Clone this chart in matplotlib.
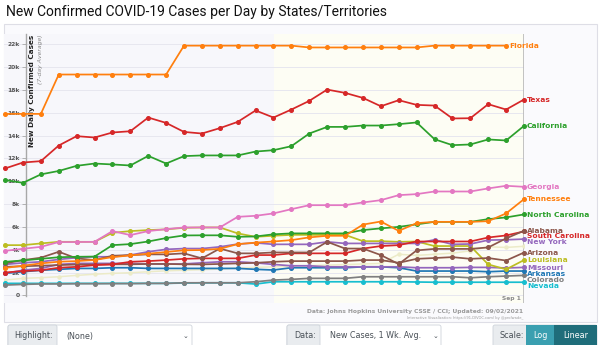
import matplotlib
matplotlib.use("Agg")
import matplotlib.pyplot as plt
from matplotlib.patches import Rectangle, FancyBboxPatch

# daily new cases, 7-day average, in thousands (Aug 3 .. Sep 1)
days = list(range(30))
florida = [15.9, 15.9, 15.9, 19.35, 19.35, 19.35, 19.35, 19.35, 19.35, 19.35,
           21.88, 21.88, 21.88, 21.88, 21.88, 21.88, 21.88, 21.72, 21.72, 21.72,
           21.72, 21.72, 21.72, 21.72, 21.88, 21.88, 21.88, 21.88, 21.88]
texas = [11.12, 11.64, 11.76, 13.13, 13.95, 13.83, 14.27, 14.38, 15.58, 15.11,
         14.32, 14.18, 14.65, 15.2, 16.2, 15.58, 16.28, 17.04, 18.03, 17.74,
         17.3, 16.57, 17.1, 16.69, 16.63, 15.5, 15.52, 16.75, 16.28, 17.16]
california = [10.1, 9.86, 10.6, 10.9, 11.35, 11.55, 11.47, 11.38, 12.22, 11.55,
              12.2, 12.26, 12.26, 12.26, 12.6, 12.72, 13.07, 14.18, 14.76, 14.76,
              14.88, 14.88, 15.0, 15.15, 13.68, 13.16, 13.22, 13.66, 13.57, 14.85]
georgia = [3.9, 4.08, 4.25, 4.67, 4.67, 4.69, 5.63, 5.28, 5.63, 5.8,
           5.95, 5.95, 5.95, 6.88, 6.97, 7.18, 7.55, 7.9, 7.9, 7.9,
           8.14, 8.34, 8.78, 8.87, 9.1, 9.1, 9.1, 9.37, 9.6, 9.51]
tennessee = [2.4, 2.6, 2.8, 2.95, 3.0, 3.1, 3.35, 3.5, 3.65, 3.8,
             3.95, 3.97, 4.08, 4.49, 4.62, 4.72, 4.84, 5.08, 5.22, 5.22,
             6.2, 6.47, 5.65, 6.33, 6.44, 6.44, 6.44, 6.5, 7.18, 8.43]
north_carolina = [2.94, 3.06, 3.2, 3.34, 3.38, 3.4, 4.4, 4.49, 4.72, 5.02,
                  5.25, 5.26, 5.26, 5.13, 5.16, 5.35, 5.43, 5.43, 5.43, 5.43,
                  5.72, 5.87, 6.0, 6.22, 6.44, 6.44, 6.44, 6.68, 6.83, 7.09]
alabama = [2.8, 3.09, 3.3, 3.82, 3.24, 3.09, 3.47, 3.53, 3.59, 3.59,
           3.68, 3.24, 4.1, 3.68, 3.68, 3.76, 3.76, 3.76, 4.69, 4.1,
           4.1, 3.53, 2.74, 3.94, 4.07, 4.07, 4.07, 4.2, 4.99, 5.66]
south_carolina = [2.0, 2.13, 2.2, 2.42, 2.5, 2.65, 2.71, 2.94, 3.0, 3.09,
                  3.2, 3.24, 3.24, 3.24, 3.53, 3.53, 3.68, 3.68, 3.68, 3.68,
                  4.1, 4.32, 4.4, 4.72, 4.72, 4.72, 4.72, 5.07, 5.25, 5.6]
new_york = [2.71, 2.85, 2.94, 3.15, 3.3, 3.38, 3.38, 3.53, 3.82, 4.03,
            4.1, 4.1, 4.25, 4.49, 4.6, 4.47, 4.47, 4.47, 4.69, 4.55,
            4.55, 4.55, 4.55, 4.55, 4.87, 4.47, 4.5, 4.84, 4.87, 4.93]
arizona = [2.5, 2.55, 2.6, 2.65, 2.7, 2.7, 2.72, 2.72, 2.75, 2.75,
           2.72, 2.71, 2.75, 2.8, 2.85, 2.94, 3.0, 3.0, 3.0, 3.0,
           3.09, 3.09, 2.85, 3.2, 3.27, 3.35, 3.2, 3.27, 3.05, 3.75]
louisiana = [4.4, 4.4, 4.55, 4.69, 4.69, 4.69, 5.48, 5.63, 5.72, 5.78,
             5.92, 5.95, 5.95, 5.43, 5.13, 5.22, 5.3, 5.3, 5.3, 5.3,
             4.75, 4.75, 4.69, 4.72, 4.32, 4.32, 4.32, 2.71, 2.28, 3.09]
missouri = [1.93, 2.2, 2.36, 2.71, 2.8, 2.8, 2.8, 2.8, 2.75, 2.75,
            2.75, 2.85, 2.94, 2.94, 2.85, 2.71, 2.59, 2.59, 2.5, 2.5,
            2.5, 2.5, 2.5, 2.42, 2.42, 2.42, 2.45, 2.45, 2.4, 2.45]
arkansas = [1.93, 2.07, 2.2, 2.28, 2.36, 2.36, 2.42, 2.42, 2.36, 2.36,
            2.36, 2.36, 2.36, 2.36, 2.28, 2.22, 2.42, 2.42, 2.42, 2.42,
            2.5, 2.5, 2.42, 2.13, 2.13, 2.13, 2.13, 2.07, 2.13, 2.13]
colorado = [0.9, 0.96, 1.0, 1.0, 1.02, 1.02, 1.03, 1.03, 1.05, 1.05,
            1.1, 1.1, 1.1, 1.1, 1.19, 1.34, 1.4, 1.49, 1.49, 1.49,
            1.63, 1.63, 1.63, 1.63, 1.63, 1.63, 1.54, 1.63, 1.69, 1.75]
nevada = [1.05, 1.05, 1.05, 1.05, 1.05, 1.05, 1.05, 1.05, 1.05, 1.05,
          1.08, 1.1, 1.1, 1.1, 0.99, 1.19, 1.19, 1.19, 1.19, 1.19,
          1.19, 1.19, 1.19, 1.17, 1.15, 1.15, 1.15, 1.15, 1.15, 1.15]
# unlabelled faint line
other = [1.34, 1.49, 1.55, 1.63, 1.75, 1.85, 1.93, 1.98, 2.07, 2.15,
         2.2, 2.25, 2.3, 2.4, 2.45, 2.5, 2.55, 2.6, 2.65, 2.7,
         2.75, 2.8, 3.6, 3.5, 3.6, 3.7, 3.9, 4.25, 4.2, 4.3]

names = ["Florida", "Texas", "California", "Georgia", "Tennessee",
         "North Carolina", "Alabama", "South Carolina", "New York", "Arizona",
         "Louisiana", "Missouri", "Arkansas", "Colorado", "Nevada"]
series = [florida, texas, california, georgia, tennessee, north_carolina,
          alabama, south_carolina, new_york, arizona, louisiana, missouri,
          arkansas, colorado, nevada]
colors = ["#ff7f0e", "#d62728", "#2ca02c", "#e377c2", "#ff7f0e", "#2ca02c",
          "#8c564b", "#d62728", "#9467bd", "#8c564b", "#bcbd22", "#9467bd",
          "#1f77b4", "#7f7f7f", "#17becf"]
# label heights (thousands) after de-overlapping
label_y = [21.88, 17.16, 14.85, 9.5, 8.43, 7.05, 5.66, 5.17, 4.67,
           3.73, 3.09, 2.4, 1.88, 1.34, 0.81]
yticks = list(range(0, 23, 2))
ytick_labels = ["0"] + ["{}k".format(t) for t in yticks[1:]]

W, H = 600, 345
fig = plt.figure(figsize=(W / 100, H / 100), dpi=100)

# background layer in pixel coordinates
bg = fig.add_axes([0, 0, 1, 1], zorder=0)
bg.set_xlim(0, W)
bg.set_ylim(H, 0)
bg.axis("off")
bg.add_patch(Rectangle((4, 24), 593, 298, facecolor="#fafafd",
                       edgecolor="#dedee6", lw=0.8))
bg.text(6, 12, "New Confirmed COVID-19 Cases per Day by States/Territories",
        fontsize=10, family="Roboto", color="#111111", va="center", ha="left")
bg.text(523, 311, "Data: Johns Hopkins University CSSE / CCI; Updated: 09/02/2021",
        fontsize=4.3, color="#9a9a9a", ha="right", va="center", fontweight="bold")
bg.text(523, 317.5, "Interactive Visualization: https://91-DIVOC.com/ by @profwade_",
        fontsize=2.6, color="#9a9a9a", ha="right", va="center")


def box(x0, x1, fc, ec="#ced4da", rad=2):
    bg.add_patch(FancyBboxPatch((x0, 325), x1 - x0, 24,
                                boxstyle="round,pad=0,rounding_size={}".format(rad),
                                facecolor=fc, edgecolor=ec, lw=0.6))


box(8, 192, "white")
box(8, 57, "#e9ecef")
bg.text(14, 336, "Highlight:", fontsize=5.8, color="#495057", va="center")
bg.text(66, 336, "(None)", fontsize=5.8, color="#495057", va="center")
bg.text(186, 336, "\u2304", fontsize=5, color="#495057", va="center", ha="center")
box(287, 441, "white")
box(287, 320, "#e9ecef")
bg.text(294, 336, "Data:", fontsize=5.8, color="#495057", va="center")
bg.text(330, 336, "New Cases, 1 Wk. Avg.", fontsize=5.8, color="#495057", va="center")
bg.text(436, 336, "\u2304", fontsize=5, color="#495057", va="center", ha="center")
box(493, 597, "#e9ecef")
bg.add_patch(Rectangle((526, 325), 28, 24, facecolor="#3a9fb0", edgecolor="none"))
bg.add_patch(Rectangle((554, 325), 43, 24, facecolor="#1f6d7a", edgecolor="none"))
bg.text(499, 336, "Scale:", fontsize=5.8, color="#495057", va="center")
bg.text(540, 336, "Log", fontsize=5.8, color="white", va="center", ha="center")
bg.text(575.5, 336, "Linear", fontsize=5.8, color="white", va="center", ha="center")

# plot area
left, right, top, bottom = 4, 524, 34, 303
ax = fig.add_axes([left / W, 1 - bottom / H, (right - left) / W, (bottom - top) / H],
                  zorder=1)
ax.set_facecolor("#f7f7fb")
ax.set_xlim(-0.06, 29)
ax.set_ylim(-0.67, 22.9)
ax.axvspan(15.03, 29, color="#fdfdf4", zorder=0, lw=0)
ax.grid(axis="y", color="#e7e7ef", lw=0.7, zorder=0.5)
ax.set_axisbelow(True)
for side in ["top", "right", "bottom"]:
    ax.spines[side].set_visible(False)
ax.spines["left"].set_position(("data", 1.17))
ax.spines["left"].set_bounds(-0.1, 22.9)
ax.spines["left"].set_color("#a8a8a8")
ax.spines["left"].set_linewidth(1)
ax.set_xticks([])
ax.set_yticks(yticks)
ax.set_yticklabels(ytick_labels)
ax.tick_params(axis="y", length=3, width=0.6, color="#a8a8a8", pad=1.5,
               labelsize=4.3, labelcolor="#555555")
for lbl in ax.get_yticklabels():
    lbl.set_fontweight("bold")

ax.text(1.5, 22.85, "New Daily Confirmed Cases", rotation=90, ha="center", va="top",
        fontsize=5.2, fontweight="bold", color="#222222")
ax.text(1.97, 22.85, "(7-day Average)", rotation=90, ha="center", va="top",
        fontsize=4.4, style="italic", color="#8a8a8a")

ax.axvline(29, color="#bcbcbc", lw=2, zorder=2)
ax.text(28.85, -0.25, "Sep 1", ha="right", va="center", fontsize=4.3,
        fontweight="bold", color="#8a8a8a")

ax.plot(days, other, color="#ecebc8", lw=1.1, marker="o", ms=2.2, zorder=2)
for name, vals, col, ly in zip(names[::-1], series[::-1], colors[::-1], label_y[::-1]):
    xs = days[:len(vals)]
    ax.plot(xs, vals, color=col, lw=1.25, marker="o", ms=2.6, zorder=3,
            solid_joinstyle="round", clip_on=False)
    ax.annotate(name, xy=(xs[-1], ly), xytext=(3, 0), textcoords="offset pixels",
                ha="left", va="center", fontsize=5.4, fontweight="bold", color=col,
                annotation_clip=False)

fig.savefig("out.png", dpi=100)
